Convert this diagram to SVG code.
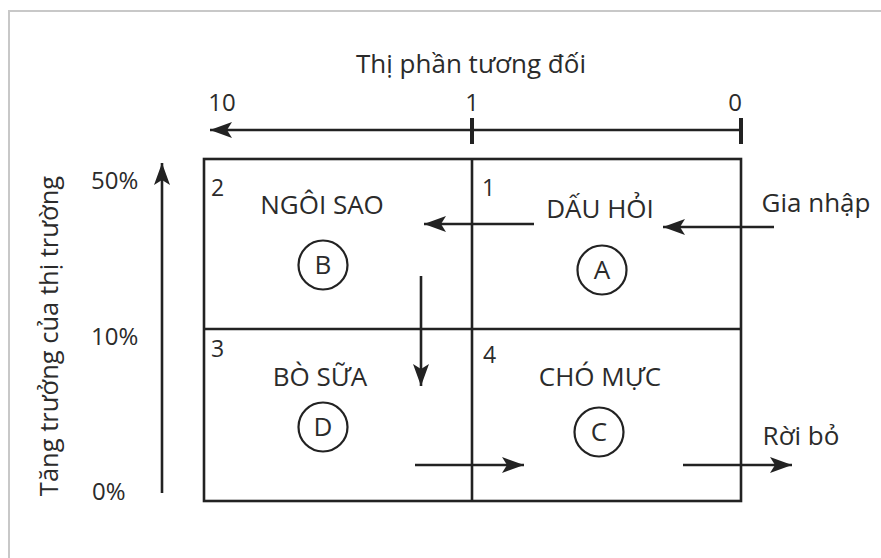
<svg xmlns="http://www.w3.org/2000/svg" width="881" height="558" viewBox="0 0 881 558">
<style>
text{font-family:"Open Sans","Noto Sans",sans-serif;fill:#2b2b2b;font-size:26px}
.m{text-anchor:middle}
.n{font-size:24px}
.q{font-size:23px}
.ln{stroke:#222;stroke-width:2.6;fill:none}
.c{stroke:#222;stroke-width:2.2;fill:none}
</style>
<defs>
<marker id="ah" viewBox="0 0 22 16" refX="22" refY="8" markerWidth="22" markerHeight="16" markerUnits="userSpaceOnUse" orient="auto">
<path d="M0,0 L22,8 L0,16 L5,8 Z" fill="#222"/>
</marker>
</defs>
<rect width="881" height="558" fill="#fff"/>
<path d="M9,560 V11 H885" fill="none" stroke="#c8c8c8" stroke-width="2"/>
<g id="axis-x">
<text class="m" x="471" y="73">Thị phần tương đối</text>
<text class="m n" x="222" y="111">10</text>
<text class="m n" x="472" y="111">1</text>
<text class="m n" x="735" y="111">0</text>
<line class="ln" x1="741" y1="130" x2="210" y2="130" marker-end="url(#ah)"/>
<line x1="472" y1="118" x2="472" y2="144" stroke="#222" stroke-width="4"/>
<line x1="741" y1="118" x2="741" y2="144" stroke="#222" stroke-width="4"/>
</g>
<g id="axis-y">
<text transform="translate(58,336) rotate(-90)" class="m" style="font-size:25.5px">Tăng trưởng của thị trường</text>
<text class="n" x="91" y="189">50%</text>
<text class="n" x="91" y="345">10%</text>
<text class="n" x="92" y="500">0%</text>
<line class="ln" x1="162" y1="493" x2="162" y2="163" marker-end="url(#ah)"/>
</g>
<g id="grid">
<rect class="ln" x="204" y="159" width="537" height="342"/>
<line class="ln" x1="472" y1="159" x2="472" y2="501"/>
<line class="ln" x1="204" y1="329" x2="741" y2="329"/>
</g>
<g id="q2">
<text class="q" x="211" y="196">2</text>
<text class="m" x="322" y="214">NGÔI SAO</text>
<circle class="c" cx="323" cy="265" r="24.5"/>
<text class="m" x="323" y="274">B</text>
</g>
<g id="q1">
<text class="q" x="482" y="196">1</text>
<text class="m" x="600" y="218">DẤU HỎI</text>
<circle class="c" cx="602" cy="270" r="24.5"/>
<text class="m" x="602" y="279">A</text>
</g>
<g id="q3">
<text class="q" x="211" y="357">3</text>
<text class="m" x="320" y="386">BÒ SỮA</text>
<circle class="c" cx="323" cy="427" r="24.5"/>
<text class="m" x="323" y="436">D</text>
</g>
<g id="q4">
<text class="q" x="483" y="363">4</text>
<text class="m" x="600" y="386">CHÓ MỰC</text>
<circle class="c" cx="599" cy="432" r="24.5"/>
<text class="m" x="599" y="441">C</text>
</g>
<g id="entry"><text class="m" x="816" y="212">Gia nhập</text></g>
<g id="exit"><text class="m" x="801" y="445">Rời bỏ</text></g>
<g id="connectors">
<line class="ln" x1="534" y1="224" x2="424" y2="224" marker-end="url(#ah)"/>
<line class="ln" x1="774" y1="227" x2="663" y2="227" marker-end="url(#ah)"/>
<line class="ln" x1="421" y1="276" x2="421" y2="386" marker-end="url(#ah)"/>
<line class="ln" x1="415" y1="465" x2="524" y2="465" marker-end="url(#ah)"/>
<line class="ln" x1="683" y1="465" x2="792" y2="465" marker-end="url(#ah)"/>
</g>
</svg>
